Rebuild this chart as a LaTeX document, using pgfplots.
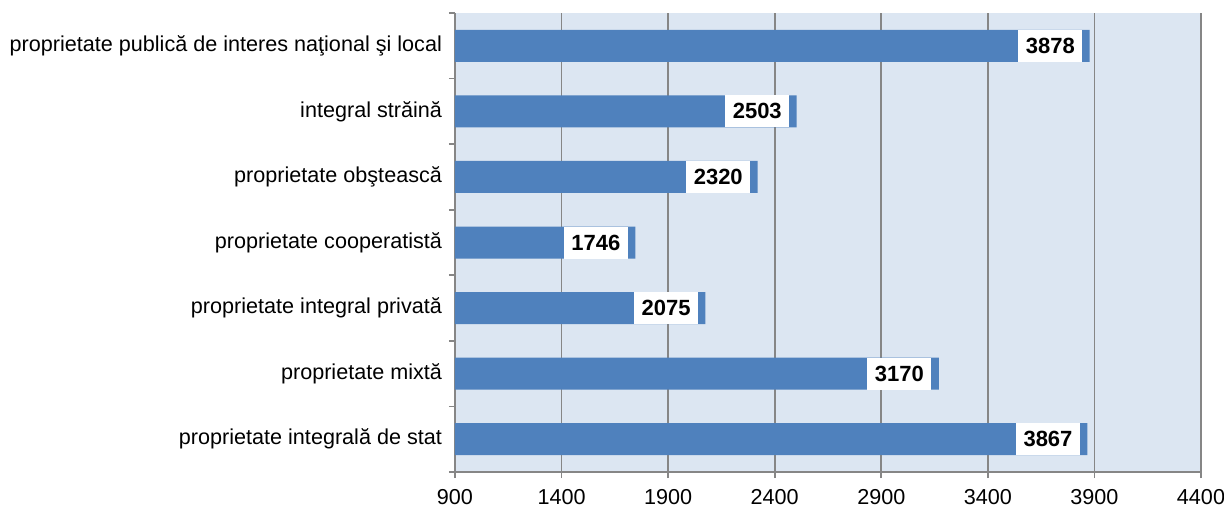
\documentclass[border=0pt]{standalone}
\usepackage{pgfplots}
\pgfplotsset{compat=1.18}
\usepackage{fontspec}
\setmainfont{Liberation Sans}
\definecolor{barblue}{HTML}{4F81BD}
\definecolor{plotbg}{HTML}{DCE6F2}
\definecolor{gridgray}{HTML}{868686}
\begin{document}
\begin{tikzpicture}
\begin{axis}[
  at={(0,0)}, anchor=south west,
  scale only axis,
  width=373pt, height=229.5pt,
  xbar, bar width=16pt,
  xmin=900, xmax=4400,
  ymin=-0.5, ymax=6.5,
  xtick={900,1400,...,4400},
  ytick={0,...,6},
  yticklabels={proprietate integrală de stat, proprietate mixtă, proprietate integral privată, proprietate cooperatistă, proprietate obştească, integral străină, proprietate publică de interes naţional şi local},
  minor ytick={-0.5,0.5,...,6.5},
  axis x line*=bottom, axis y line*=left,
  axis line style={gridgray, line width=0.9pt, -},
  axis background/.style={fill=plotbg},
  xmajorgrids, major grid style={gridgray, line width=0.9pt},
  major x tick style={gridgray, line width=0.9pt},
  minor y tick style={gridgray, line width=0.9pt},
  major y tick style={draw=none},
  tick align=outside,
  major tick length=3pt, minor tick length=3pt,
  tick label style={font=\fontsize{10.8}{13}\selectfont},
  yticklabel style={xshift=0pt},
  xticklabel style={yshift=-2pt},
  /pgf/number format/assume math mode=true,
  /pgf/number format/1000 sep={},
  nodes near coords,
  nodes near coords style={anchor=east, xshift=-3.5pt, fill=white,
    minimum height=16pt, minimum width=32pt, inner sep=0pt,
    font=\fontsize{11}{13}\selectfont\bfseries, text=black,
    /pgf/number format/1000 sep={}},
]
\addplot[fill=barblue, draw=none] coordinates {
  (3867,0) (3170,1) (2075,2) (1746,3) (2320,4) (2503,5) (3878,6)
};
\end{axis}
\pgfresetboundingbox
\path[use as bounding box] (-227.5pt,-18pt) rectangle (384.5pt,236pt);
\end{tikzpicture}
\end{document}
